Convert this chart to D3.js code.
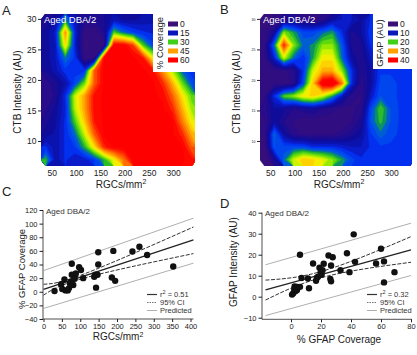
<!DOCTYPE html>
<html>
<head>
<meta charset="utf-8">
<script src="https://cdn.jsdelivr.net/npm/d3@7"></script>
<style>
  body { margin: 0; background: #fff; }
  svg { display: block; font-family: "Liberation Sans", Arial, sans-serif; }
</style>
</head>
<body>
<script>
// ---- contour maps (A, B): grid rows run from CTB 30.9 (top) down to 5.9, cols RGC 28..348
const gridRgc = [28, 348];
const gridCtb = [5.9, 30.9];

// % GFAP coverage, panel A
const coverageGrid = [
  [ 9, 12, 26, 14,  8,  8, 10, 14, 12, 12, 13, 14, 14, 15, 16, 17],
  [11, 16, 46, 17,  3,  3,  8, 30, 24, 20, 18, 17, 16, 16, 16, 16],
  [11, 15, 40, 16,  2,  3,  3, 58, 58, 52, 30, 21, 18, 17, 16, 15],
  [11, 15, 25, 19,  3,  4, 58, 58, 58, 58, 55, 38, 22, 18, 17, 16],
  [10, 14, 19, 19, 19, 50, 58, 58, 58, 58, 58, 56, 46, 35, 24, 18],
  [ 6,  9, 13, 21, 32, 50, 58, 58, 58, 58, 58, 58, 54, 44, 32, 22],
  [ 5,  8, 18, 36, 45, 56, 58, 58, 58, 58, 58, 58, 57, 50, 40, 31],
  [ 7, 11, 17, 35, 45, 56, 58, 58, 58, 58, 58, 58, 58, 54, 44, 34],
  [ 9, 12, 18, 30, 42, 55, 58, 58, 58, 58, 58, 58, 58, 58, 48, 38],
  [11, 13, 18, 24, 36, 50, 58, 58, 58, 58, 58, 58, 58, 58, 54, 44],
  [18, 13, 18, 20, 28, 40, 54, 58, 58, 58, 58, 58, 58, 58, 58, 50],
  [28, 13, 18, 15, 16, 20, 28, 38, 48, 58, 58, 58, 58, 58, 58, 56]
];

// GFAP intensity, panel B
const gfapGrid = [
  [ 1,  2,  5,  5,  4,  3,  4,  8, 10, 10,  8, 12, 13, 13, 13, 13],
  [ 2,  7, 22, 18, 14, 14, 16, 18, 12,  6,  8, 13, 13, 13, 13, 13],
  [ 3, 16, 36, 22, 16, 17, 22, 22, 15,  6,  6, 12, 13, 13, 13, 13],
  [ 3, 11, 24, 16, 12, 18, 26, 26, 16,  8,  5, 10, 13, 13, 13, 13],
  [ 2,  3,  3,  4, 12, 24, 29, 29, 22, 12,  5,  8, 13, 13, 13, 13],
  [ 2,  3,  2,  4, 14, 28, 40, 42, 32, 12,  4,  8, 14, 14, 13, 13],
  [ 3, 12, 20, 22, 26, 27, 24, 18, 10,  4,  3, 10, 15, 14, 13, 13],
  [ 4,  8,  7,  5,  6,  7,  5,  4,  3,  3,  4, 14, 20, 15, 13, 13],
  [ 3,  8,  5,  3,  2,  2,  2,  2,  2,  3,  6, 15, 19, 15, 13, 13],
  [ 2, 16,  8,  4,  3,  3,  3,  3,  4,  6,  8, 13, 16, 14, 13, 13],
  [ 1, 15, 14, 14, 14, 12, 12, 12, 11, 10, 10, 12, 13, 13, 13, 13],
  [ 0,  6, 16, 24, 28, 27, 25, 22, 18, 14, 12, 12, 12, 13, 13, 13]
];

const mapXTicks = [50, 100, 150, 200, 250, 300];
const mapYTicks = [10, 15, 20, 25, 30];
const coverageKeys = [0, 15, 30, 45, 60];
const gfapKeys = [0, 10, 20, 30, 40];

// ---- panel C: RGCs/mm2 vs % GFAP coverage
const rgcC = [30, 48, 57, 51, 60, 66, 69, 72, 75, 77, 77, 81, 85, 85, 88, 97, 102, 108,
  138, 141, 143, 147, 149, 149, 186, 190, 195, 242, 261, 282, 353];
const coverageC = [1, 11, 18, 4, 2, 2, 5, 12, 15, 41, 25, 10, 19, 25, 27, 36, 32, 20,
  22, 25, 6, 25, 58, 40, 21, 60, 16, 59, 66, 54, 37];
const fitC = [[0, 3.5], [408, 76]];
const ciUpC = [[0, 11], [110, 26], [408, 95]];
const ciLoC = [[0, -5], [110, 20], [408, 56]];
const predUpC = [[0, 31], [408, 108]];
const predLoC = [[0, -24.5], [408, 42]];
const xTicksC = [0, 50, 100, 150, 200, 250, 300, 350, 400];
const yTicksC = [-40, -20, 0, 20, 40, 60, 80, 100, 120];

// ---- panel D: % GFAP coverage vs GFAP intensity
const coverageD = [0.7, 1.5, 2.2, 2.4, 3.1, 3.5, 4, 4.4, 6, 6, 7, 12, 11.3, 14.7, 16.7, 17.3, 18,
  19, 19.8, 20.4, 21, 21.8, 25, 26.2, 26.7, 26.7, 27.8, 33, 37.3, 39, 41.8, 42.7, 56.7, 60, 62, 62, 69];
const intensityD = [1, 1.7, 3.6, 4.9, 2.7, 4.7, 3.2, 4.7, 4.7, 20, 8.9, 4, 8.7, 15.8, 7.6, 9, 9.5,
  13.8, 11.7, 10.4, 12.6, 15.7, 19.6, 8.5, 7.3, 14.9, 18.8, 12.6, 20.7, 11.7, 29.7, 16.6, 15.8, 22.8, 16.8, 6.8, 11.7];
const fitD = [[-17, 3.2], [80, 22.3]];
const ciUpD = [[-17, 7.9], [22, 12.4], [80, 28.6]];
const ciLoD = [[-17, -1.6], [22, 9.4], [80, 16.4]];
const predUpD = [[-17, 15.2], [80, 35]];
const predLoD = [[-17, -9], [80, 10.1]];
const xTicksD = [0, 20, 40, 60, 80];
const yTicksD = [-10, 0, 10, 20, 30, 40];

// colour ramp shared by both maps (fraction of the legend maximum)
const heat = d3.scaleLinear()
  .domain([0, .1, .2, .27, .33, .4, .45, .5, .57, .63, .69, .75, .83, .9, .95])
  .range(["#3a1078", "#2a0c88", "#0c0c9c", "#0a1cc8", "#0038ff", "#0060d0", "#10a040",
          "#40d018", "#a0ec00", "#f0f800", "#ffd000", "#ffa000", "#ff6000", "#ff2000", "#ff0000"])
  .clamp(true);

const svg = d3.select('body').append('svg')
  .attr('width', 417).attr('height', 355);
svg.append('rect').attr('width', 417).attr('height', 355).attr('fill', '#fff');
const defs = svg.append('defs');

function tidy(g, fs) {
  g.select('.domain').remove();
  g.selectAll('text').attr('font-size', fs).attr('fill', '#222');
  g.selectAll('line').attr('stroke', '#222');
}

function mapPanel(o) {
  const x = d3.scaleLinear().domain(o.xDom).range([o.left, o.right]);
  const y = d3.scaleLinear().domain([5.9, 30.8]).range([166, 14]);
  defs.append('clipPath').attr('id', o.id)
    .append('rect').attr('x', o.left).attr('y', 14)
    .attr('width', o.right - o.left).attr('height', 152);

  const grid = o.grid;
  const ny = grid.length, nx = grid[0].length;
  const gx = d3.scaleLinear().domain([0, nx]).range([x(gridRgc[0]), x(gridRgc[1])]);
  const gy = d3.scaleLinear().domain([0, ny]).range([y(gridCtb[1]), y(gridCtb[0])]);
  const path = d3.geoPath(d3.geoTransform({
    point(px, py) { this.stream.point(gx(px), gy(py)); }
  }));
  const step = o.max / 24;
  const bands = d3.contours().size([nx, ny])
    .thresholds(d3.range(0, o.max - 0.01, step))(grid.flat());

  svg.append('g').attr('clip-path', `url(#${o.id})`)
    .selectAll('path').data(bands).join('path')
    .attr('d', path)
    .attr('fill', d => heat((d.value + step / 2) / o.max))
    .attr('stroke', d => heat((d.value + step / 2) / o.max))
    .attr('stroke-width', 0.4);

  svg.append('text').attr('x', o.left + 3).attr('y', 23)
    .attr('font-size', 9.5).attr('fill', '#fff').text('Aged DBA/2');

  // legend
  const lg = svg.append('g');
  lg.append('rect').attr('x', o.legX).attr('y', 14)
    .attr('width', o.right - o.legX + 0.5).attr('height', o.legH).attr('fill', '#fff');
  lg.append('text')
    .attr('transform', `translate(${o.legX + 9.5},${43}) rotate(-90)`)
    .attr('text-anchor', 'middle').attr('font-size', 9.5).attr('fill', '#222')
    .text(o.legTitle);
  const ky = d3.scalePoint().domain(o.keys).range([24, 60]);
  lg.selectAll('rect.k').data(o.keys).join('rect').attr('class', 'k')
    .attr('x', o.legX + 15).attr('y', d => ky(d) - 2.5)
    .attr('width', 10).attr('height', 5)
    .attr('fill', d => heat(d / o.max));
  lg.selectAll('text.k').data(o.keys).join('text').attr('class', 'k')
    .attr('x', o.legX + 27).attr('y', d => ky(d) + 3)
    .attr('font-size', 8.5).attr('fill', '#222').text(d => d);

  const gxa = svg.append('g').attr('transform', 'translate(0,166)')
    .call(d3.axisBottom(x).tickValues(mapXTicks).tickSize(0).tickPadding(3.5));
  tidy(gxa, 8.5);
  const gya = svg.append('g').attr('transform', `translate(${o.left},0)`)
    .call(d3.axisLeft(y).tickValues(mapYTicks).tickSize(3).tickPadding(1.5));
  tidy(gya, o.yTickFont);

  svg.append('text').attr('x', (o.left + o.right) / 2 + 3).attr('y', 187.5)
    .attr('text-anchor', 'middle').attr('font-size', 10).attr('fill', '#222')
    .text('RGCs/mm').append('tspan').attr('dy', -3.5).attr('font-size', 7).text('2');
  svg.append('text')
    .attr('transform', `translate(${o.left - 20.5},92) rotate(-90)`)
    .attr('text-anchor', 'middle').attr('font-size', 10).attr('fill', '#222')
    .text('CTB Intensity (AU)');
}

mapPanel({id: 'clipA', grid: coverageGrid, max: 60, xDom: [28, 345], left: 41, right: 195,
  legX: 153, legH: 58, legTitle: '% Coverage', keys: coverageKeys, yTickFont: 8.5});
mapPanel({id: 'clipB', grid: gfapGrid, max: 40, xDom: [28.6, 343], left: 260, right: 412,
  legX: 373, legH: 55, legTitle: 'GFAP (AU)', keys: gfapKeys, yTickFont: 3.5});

function scatterPanel(o) {
  const x = d3.scaleLinear().domain(o.xDom).range(o.xRange);
  const y = d3.scaleLinear().domain(o.yDom).range(o.yRange);
  const line = d3.line().x(d => x(d[0])).y(d => y(d[1]));
  const curve = d3.line().x(d => x(d[0])).y(d => y(d[1])).curve(d3.curveNatural);
  const g = svg.append('g');

  // axes
  const ax = g.append('g').attr('transform', `translate(0,${o.axisY})`)
    .call(d3.axisBottom(x).tickValues(o.xTicks).tickSize(3).tickPadding(1.5));
  tidy(ax, 7.5);
  const ay = g.append('g').attr('transform', `translate(${o.axisX},0)`)
    .call(d3.axisLeft(y).tickValues(o.yTicks).tickSize(3.5).tickPadding(2));
  tidy(ay, 7.5);
  g.append('line').attr('x1', o.axisX).attr('x2', x(o.xEnd))
    .attr('y1', o.axisY).attr('y2', o.axisY).attr('stroke', '#222').attr('stroke-width', 0.8);
  g.append('line').attr('x1', o.axisX).attr('x2', o.axisX)
    .attr('y1', o.axisY).attr('y2', y(o.yTicks[o.yTicks.length - 1])).attr('stroke', '#222').attr('stroke-width', 0.8);

  // fit, confidence and prediction bands
  [o.predUp, o.predLo].forEach(p => g.append('path').attr('d', line(p))
    .attr('fill', 'none').attr('stroke', '#9a9a9a').attr('stroke-width', 0.8));
  [o.ciUp, o.ciLo].forEach(p => g.append('path').attr('d', curve(p))
    .attr('fill', 'none').attr('stroke', '#333').attr('stroke-width', 1)
    .attr('stroke-dasharray', '4,1.5'));
  g.append('path').attr('d', line(o.fit))
    .attr('fill', 'none').attr('stroke', '#222').attr('stroke-width', 1.3);

  g.selectAll('circle').data(o.xs).join('circle')
    .attr('cx', d => x(d)).attr('cy', (d, i) => y(o.ys[i])).attr('r', 3.2)
    .attr('fill', '#111');

  g.append('text').attr('x', o.axisX + 3).attr('y', o.titleY)
    .attr('font-size', 8).attr('fill', '#333').text('Aged DBA/2');

  // legend
  const leg = [
    {label: 'r', r2: o.r2, stroke: '#333', w: 1.2, dash: null},
    {label: '95% CI', stroke: '#777', w: 1, dash: '1.5,1'},
    {label: 'Predicted', stroke: '#999', w: 0.8, dash: null}
  ];
  leg.forEach((d, i) => {
    const ly = o.legY + i * 8;
    g.append('line').attr('x1', o.legX).attr('x2', o.legX + 10)
      .attr('y1', ly - 2.5).attr('y2', ly - 2.5)
      .attr('stroke', d.stroke).attr('stroke-width', d.w)
      .attr('stroke-dasharray', d.dash);
    const t = g.append('text').attr('x', o.legX + 13).attr('y', ly)
      .attr('font-size', 7.5).attr('fill', '#333').text(d.label);
    if (d.r2) {
      t.append('tspan').attr('dy', -3).attr('font-size', 5.5).text('2');
      t.append('tspan').attr('dy', 3).text(' = ' + d.r2);
    }
  });

  svg.append('text').attr('x', o.xLabelX).attr('y', o.xLabelY)
    .attr('text-anchor', 'middle').attr('font-size', 10).attr('fill', '#222')
    .call(t => {
      t.text(o.xLabel);
      if (o.xSup) t.append('tspan').attr('dy', -3.5).attr('font-size', 7).text('2');
    });
  svg.append('text')
    .attr('transform', `translate(${o.yLabelX},${o.yLabelY}) rotate(-90)`)
    .attr('text-anchor', 'middle').attr('font-size', o.yLabelFont).attr('fill', '#222')
    .text(o.yLabel);
}

scatterPanel({
  xDom: [0, 400], xRange: [43.5, 190.5], yDom: [-40, 120], yRange: [319, 210],
  axisX: 43, axisY: 319, xEnd: 408, xTicks: xTicksC, yTicks: yTicksC,
  xs: rgcC, ys: coverageC, fit: fitC, ciUp: ciUpC, ciLo: ciLoC, predUp: predUpC, predLo: predLoC,
  titleY: 214, r2: '0.51', legX: 147, legY: 297,
  xLabel: 'RGCs/mm', xSup: true, xLabelX: 118, xLabelY: 340,
  yLabel: '% GFAP Coverage', yLabelX: 25, yLabelY: 269, yLabelFont: 9.5
});

scatterPanel({
  xDom: [0, 80], xRange: [291, 411], yDom: [-10, 40], yRange: [317.7, 212.7],
  axisX: 262, axisY: 319.3, xEnd: 80.7, xTicks: xTicksD, yTicks: yTicksD,
  xs: coverageD, ys: intensityD, fit: fitD, ciUp: ciUpD, ciLo: ciLoD, predUp: predUpD, predLo: predLoD,
  titleY: 216, r2: '0.32', legX: 367, legY: 297,
  xLabel: '% GFAP Coverage', xSup: false, xLabelX: 339, xLabelY: 343,
  yLabel: 'GFAP Intensity (AU)', yLabelX: 237, yLabelY: 262, yLabelFont: 10
});

// panel letters
[['A', 2, 15], ['B', 220, 14], ['C', 2, 196], ['D', 220, 208]].forEach(([t, x, y]) =>
  svg.append('text').attr('x', x).attr('y', y).attr('font-size', 13)
    .attr('fill', '#222').text(t));
</script>
</body>
</html>
